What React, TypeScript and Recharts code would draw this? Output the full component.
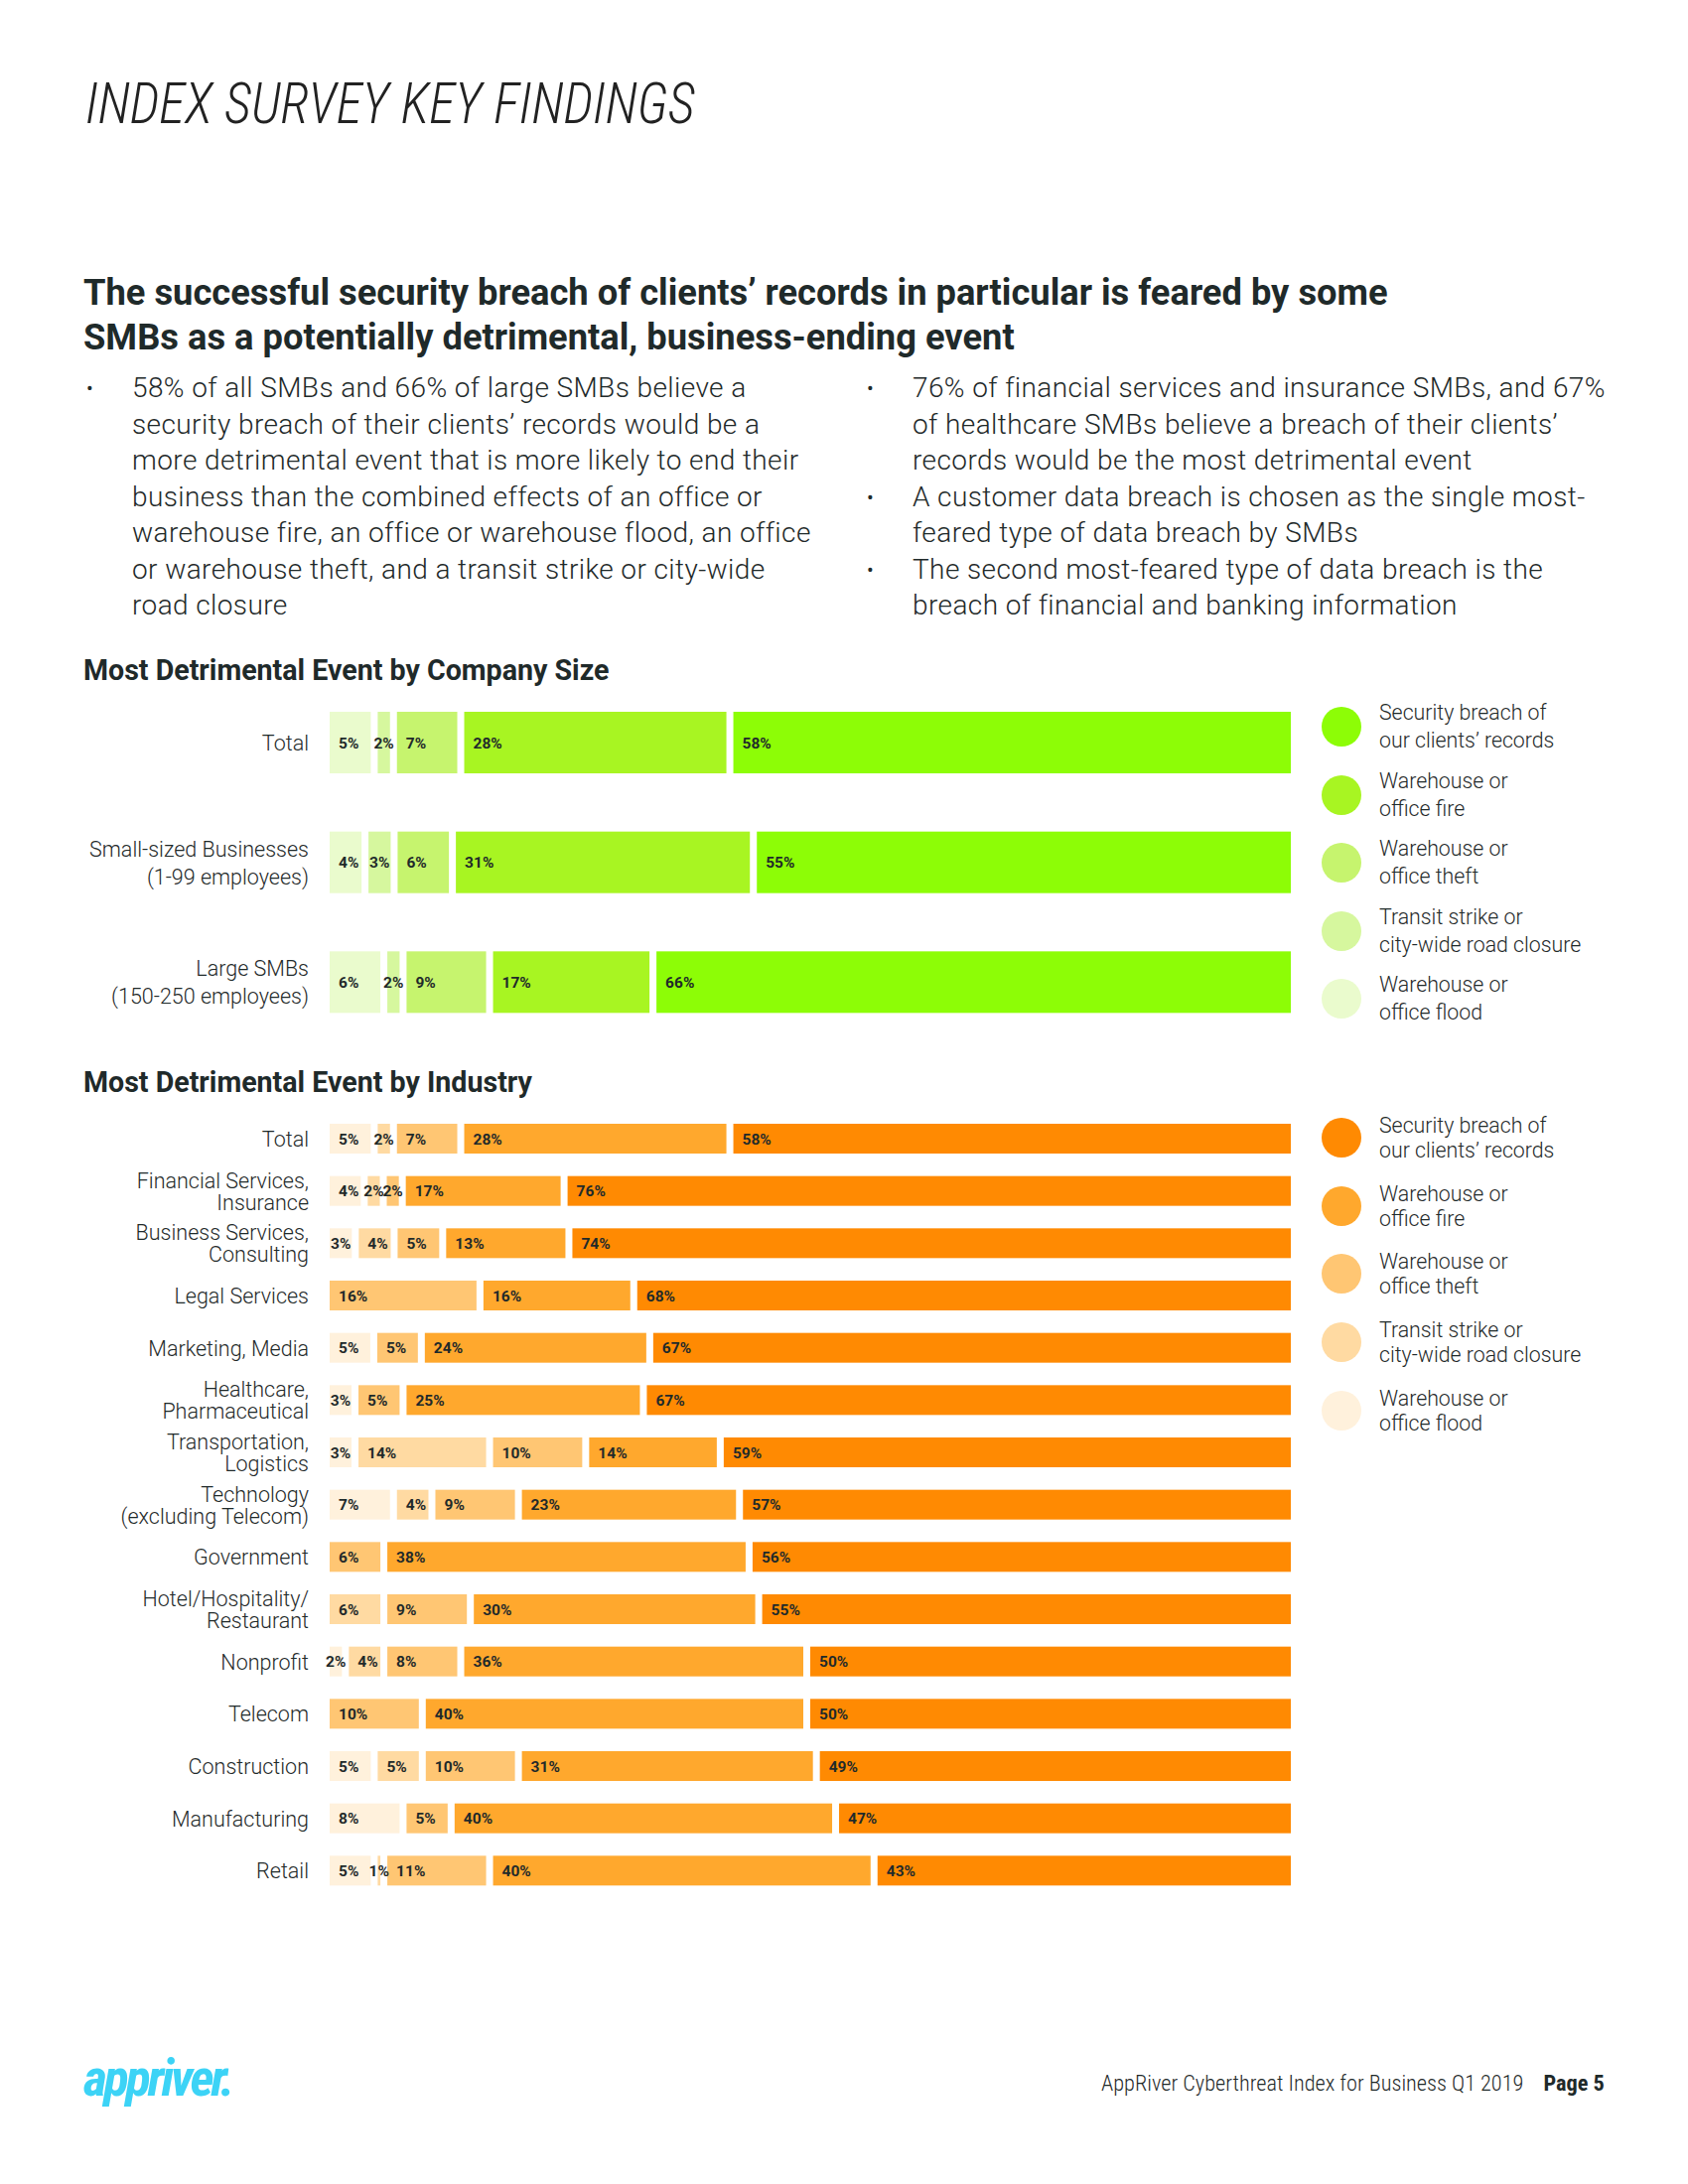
import React from 'react';
import { BarChart, Bar, XAxis, YAxis, LabelList } from 'recharts';

// series order, left to right in every bar
const seriesKeys = ['flood', 'transit', 'theft', 'fire', 'security'];
const seriesNames = [
  'Warehouse or\noffice flood',
  'Transit strike or\ncity-wide road closure',
  'Warehouse or\noffice theft',
  'Warehouse or\noffice fire',
  'Security breach of\nour clients\u2019 records',
];
const greens = ['#EAFBCD', '#D6F79E', '#C6F46E', '#A8F522', '#8DFD06'];
const oranges = ['#FFF1DC', '#FFDAA2', '#FFC673', '#FFA82D', '#FF8A02'];

// company size
const sizeCategories = ['Total', 'Small-sized Businesses\n(1-99 employees)', 'Large SMBs\n(150-250 employees)'];
const sizeFlood = [5, 4, 6];
const sizeTransit = [2, 3, 2];
const sizeTheft = [7, 6, 9];
const sizeFire = [28, 31, 17];
const sizeSecurity = [58, 55, 66];

// industry
const industryCategories = [
  'Total', 'Financial Services,\nInsurance', 'Business Services,\nConsulting', 'Legal Services',
  'Marketing, Media', 'Healthcare,\nPharmaceutical', 'Transportation,\nLogistics',
  'Technology\n(excluding Telecom)', 'Government', 'Hotel/Hospitality/\nRestaurant', 'Nonprofit',
  'Telecom', 'Construction', 'Manufacturing', 'Retail',
];
const indFlood = [5, 4, 3, 0, 5, 3, 3, 7, 0, 0, 2, 0, 5, 8, 5];
const indTransit = [2, 2, 4, 0, 0, 0, 14, 4, 0, 6, 4, 0, 5, 0, 1];
const indTheft = [7, 2, 5, 16, 5, 5, 10, 9, 6, 9, 8, 10, 10, 5, 11];
const indFire = [28, 17, 13, 16, 24, 25, 14, 23, 38, 30, 36, 40, 31, 40, 40];
const indSecurity = [58, 76, 74, 68, 67, 67, 59, 57, 56, 55, 50, 50, 49, 47, 43];

const sizeRows = sizeCategories.map((name, i) => ({
  name, flood: sizeFlood[i], transit: sizeTransit[i], theft: sizeTheft[i], fire: sizeFire[i], security: sizeSecurity[i],
}));
const industryRows = industryCategories.map((name, i) => ({
  name, flood: indFlood[i], transit: indTransit[i], theft: indTheft[i], fire: indFire[i], security: indSecurity[i],
}));

const BODY = "Roboto, 'Open Sans', sans-serif";
const COND = "'Roboto Condensed', 'Liberation Sans Narrow', 'DejaVu Sans Condensed', Roboto, sans-serif";
const INK = '#1f2a2a';
const GAP = 7;

const CategoryTick = ({ x, y, payload, fontSize, lineGap }: any) => {
  const lines = String(payload.value).split('\n');
  const start = y - ((lines.length - 1) * lineGap) / 2;
  return (
    <text textAnchor="end" fontSize={fontSize} fontWeight={300} fill={INK} fontFamily={BODY}>
      {lines.map((l, i) => (
        <tspan key={i} x={x} y={start + i * lineGap} dy="0.35em">{l}</tspan>
      ))}
    </text>
  );
};

// narrow segments get their label centred, wider ones have it inside on the left
const pctLabel = (p: any) => {
  if (!p.value) return null;
  const vb = p.viewBox || p;
  const drawn = vb.width - GAP;
  const narrow = drawn < 30;
  return (
    <text x={narrow ? vb.x + drawn / 2 : vb.x + 9} y={vb.y + vb.height / 2} dy="0.36em"
      textAnchor={narrow ? 'middle' : 'start'} fontSize={15.5} fontWeight={700}
      fill={INK} fontFamily={BODY}>{p.value}%</text>
  );
};

// each segment leaves a white gap on its right, except the last one
const gapShape = (gap: number) => (p: any) => (
  <rect x={p.x} y={p.y} width={Math.max(p.width - gap, 0)} height={p.height} fill={p.fill} />
);

interface ChartProps {
  rows: any[]; colors: string[]; top: number; height: number; barSize: number;
  tickSize: number; lineGap: number;
}

const StackedChart = ({ rows, colors, top, height, barSize, tickSize, lineGap }: ChartProps) => (
  <div style={{ position: 'absolute', left: 0, top }}>
    <BarChart width={1300} height={height} data={rows} layout="vertical" stackOffset="expand"
      margin={{ top: 0, right: 0, bottom: 0, left: 0 }}>
      <XAxis type="number" hide domain={[0, 1]} />
      <YAxis type="category" dataKey="name" width={332} axisLine={false} tickLine={false}
        tickSize={0} tickMargin={21} interval={0}
        tick={<CategoryTick fontSize={tickSize} lineGap={lineGap} />} />
      {seriesKeys.map((k, i) => (
        <Bar key={k} dataKey={k} stackId="s" fill={colors[i]} barSize={barSize} isAnimationActive={false}
          shape={gapShape(i === seriesKeys.length - 1 ? 0 : GAP)}>
          <LabelList dataKey={k} content={pctLabel} />
        </Bar>
      ))}
    </BarChart>
  </div>
);

const Legend = ({ colors, top, step, lineH }: { colors: string[]; top: number; step: number; lineH: number }) => (
  <div style={{ position: 'absolute', left: 1331, top }}>
    {seriesKeys.map((k, i) => i).reverse().map((i, j) => (
      <div key={i} style={{ position: 'absolute', top: j * step, left: 0, width: 360, height: 40 }}>
        <div style={{ position: 'absolute', left: 0, top: 0, width: 40, height: 40, borderRadius: '50%', background: colors[i] }} />
        <div style={{
          position: 'absolute', left: 58, top: 20 - lineH, whiteSpace: 'pre', fontFamily: BODY, fontWeight: 300,
          fontSize: 21.3, lineHeight: `${lineH}px`, color: INK,
        }}>{seriesNames[i]}</div>
      </div>
    ))}
  </div>
);

const abs = (left: number, top: number, extra: React.CSSProperties = {}): React.CSSProperties => ({
  position: 'absolute', left, top, margin: 0, fontFamily: BODY, color: INK, whiteSpace: 'nowrap', ...extra,
});

const Bullet = ({ lines, top, left }: { lines: string[]; top: number; left: number }) => (
  <div style={abs(left, top)}>
    <span style={{ position: 'absolute', left: -46, top: 0, fontSize: 20, lineHeight: '36.5px' }}>{'\u2022'}</span>
    {lines.map((l, i) => (
      <div key={i} style={{ fontSize: 28, fontWeight: 300, lineHeight: '36.5px', letterSpacing: 0.4 }}>{l}</div>
    ))}
  </div>
);

export default function App() {
  return (
    <div style={{ position: 'absolute', left: 0, top: 0, width: 1700, height: 2200, background: '#fff', overflow: 'hidden' }}>
      <div style={abs(86, 72, {
        fontFamily: COND, fontSize: 57, fontWeight: 300, fontStyle: 'italic', lineHeight: '66px', color: '#222',
        transform: 'scaleX(0.94)', transformOrigin: 'left center',
      })}>
        INDEX SURVEY KEY FINDINGS
      </div>

      <div style={abs(84, 272, { fontSize: 36.3, fontWeight: 700, lineHeight: '45px' })}>
        <div>The successful security breach of clients’ records in particular is feared by some</div>
        <div>SMBs as a potentially detrimental, business-ending event</div>
      </div>

      <Bullet left={133} top={373} lines={[
        '58% of all SMBs and 66% of large SMBs believe a',
        'security breach of their clients’ records would be a',
        'more detrimental event that is more likely to end their',
        'business than the combined effects of an office or',
        'warehouse fire, an office or warehouse flood, an office',
        'or warehouse theft, and a transit strike or city-wide',
        'road closure',
      ]} />
      <Bullet left={919} top={373} lines={[
        '76% of financial services and insurance SMBs, and 67%',
        'of healthcare SMBs believe a breach of their clients’',
        'records would be the most detrimental event',
      ]} />
      <Bullet left={919} top={482.5} lines={[
        'A customer data breach is chosen as the single most-',
        'feared type of data breach by SMBs',
      ]} />
      <Bullet left={919} top={555.5} lines={[
        'The second most-feared type of data breach is the',
        'breach of financial and banking information',
      ]} />

      <div style={abs(84, 657, { fontSize: 28.6, fontWeight: 700, lineHeight: '36px' })}>Most Detrimental Event by Company Size</div>
      <StackedChart rows={sizeRows} colors={greens} top={688} height={362} barSize={62} tickSize={21.5} lineGap={28} />
      <Legend colors={greens} top={712} step={68.5} lineH={28} />

      <div style={abs(84, 1072, { fontSize: 28.6, fontWeight: 700, lineHeight: '36px' })}>Most Detrimental Event by Industry</div>
      <StackedChart rows={industryRows} colors={oranges} top={1121} height={790} barSize={30} tickSize={21.5} lineGap={22} />
      <Legend colors={oranges} top={1126} step={68.7} lineH={25} />

      <div style={abs(84, 2064, { fontFamily: COND, fontSize: 52, fontWeight: 700, fontStyle: 'italic', color: '#3CD3F6', letterSpacing: -3, lineHeight: '60px' })}>
        appriver.
      </div>
      <div style={abs(1109, 2083, { fontFamily: COND, fontSize: 22.3, fontWeight: 300, lineHeight: '30px' })}>
        AppRiver Cyberthreat Index for Business Q1 2019
        <span style={{ fontWeight: 700, marginLeft: 20 }}>Page 5</span>
      </div>
    </div>
  );
}
